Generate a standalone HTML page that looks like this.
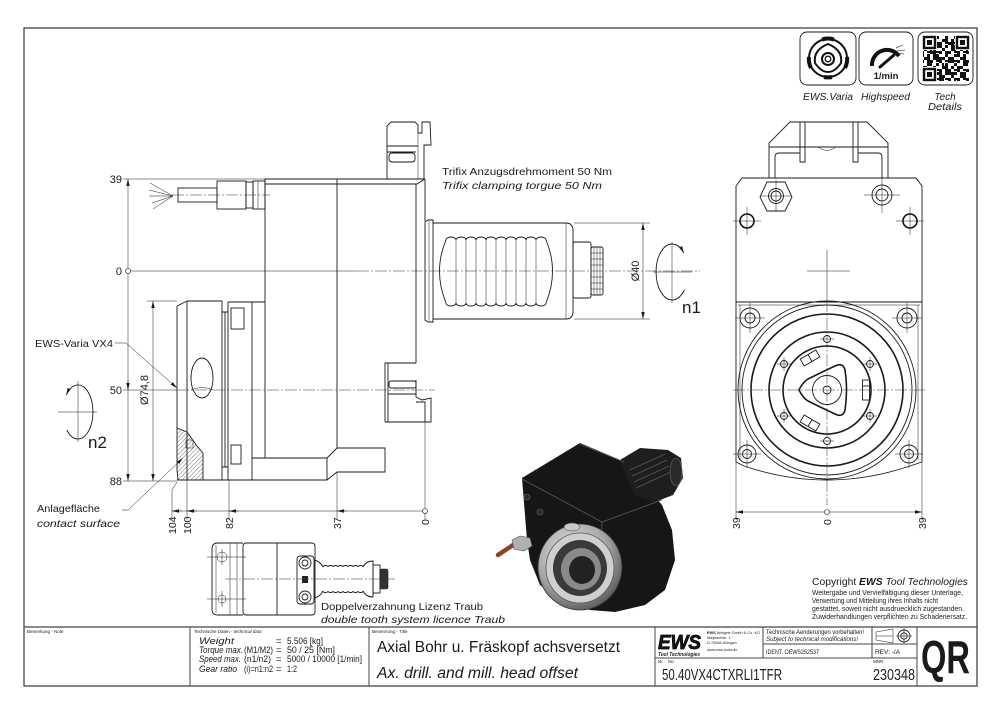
<!DOCTYPE html>
<html><head><meta charset="utf-8">
<style>
html,body{margin:0;padding:0;background:#fff;width:1000px;height:715px;overflow:hidden}
svg{display:block}
text{font-family:"Liberation Sans",sans-serif;fill:#1a1a1a}
.i{font-style:italic}
.o{fill:none;stroke:#1a1a1a;stroke-width:0.9}
.t{fill:none;stroke:#1a1a1a;stroke-width:0.5}
.k{fill:none;stroke:#1a1a1a;stroke-width:1.6}
.c{fill:none;stroke:#333;stroke-width:0.5;stroke-dasharray:12 2 2 2}
</style></head><body>
<svg width="1000" height="715" viewBox="0 0 1000 715" xmlns="http://www.w3.org/2000/svg">
<defs>
<marker id="ar" markerUnits="userSpaceOnUse" markerWidth="7" markerHeight="4" refX="7" refY="2" orient="auto-start-reverse" viewBox="0 0 7 4"><path d="M0,0.3 L7,2 L0,3.7z" fill="#1a1a1a"/></marker>
<pattern id="hatch" width="3" height="3" patternUnits="userSpaceOnUse" patternTransform="rotate(45)"><line x1="0" y1="0" x2="0" y2="3" stroke="#1a1a1a" stroke-width="0.6"/></pattern>
<pattern id="qr1" width="9" height="9" patternUnits="userSpaceOnUse"><rect x="0" y="0" width="3" height="3" fill="#111"/><rect x="6" y="3" width="3" height="3" fill="#111"/><rect x="3" y="6" width="3" height="3" fill="#111"/><rect x="0" y="6" width="3" height="2" fill="#111"/></pattern>
<pattern id="qr2" width="12" height="15" patternUnits="userSpaceOnUse"><rect x="3" y="0" width="3" height="3" fill="#111"/><rect x="9" y="6" width="3" height="6" fill="#111"/><rect x="0" y="12" width="6" height="3" fill="#111"/><rect x="6" y="3" width="2" height="3" fill="#111"/></pattern>
<radialGradient id="ring" cx="0.4" cy="0.35" r="0.7"><stop offset="0" stop-color="#e8e8e8"/><stop offset="0.6" stop-color="#a8a8a8"/><stop offset="1" stop-color="#555"/></radialGradient>
<clipPath id="hc"><polygon points="177,428 187,432 197,446 203,453 203,480 178,480 177,470"/></clipPath>
</defs>

<!-- frame -->
<rect x="24" y="28" width="953" height="658" fill="none" stroke="#444" stroke-width="1.3"/>
<line x1="24" y1="627" x2="977" y2="627" stroke="#444" stroke-width="1.2"/>
<g stroke="#444" stroke-width="1">
<line x1="190" y1="627" x2="190" y2="686"/>
<line x1="369" y1="627" x2="369" y2="686"/>
<line x1="655" y1="627" x2="655" y2="686"/>
<line x1="763" y1="627" x2="763" y2="658"/>
<line x1="872" y1="627" x2="872" y2="658"/>
<line x1="917" y1="627" x2="917" y2="686"/>
<line x1="655" y1="658" x2="917" y2="658"/>
<line x1="763" y1="644" x2="917" y2="644"/>
</g>

<!-- title block text -->
<text x="27" y="633" font-size="4.5">Bemerkung - Note</text>
<text x="194" y="633" font-size="4.5">Technische Daten - <tspan class="i">technical data</tspan></text>
<text x="372" y="633" font-size="4.5">Benennung - <tspan class="i">Title</tspan></text>
<g font-size="9.5">
<text x="199" y="644" class="i" textLength="35" lengthAdjust="spacingAndGlyphs">Weight</text>
<text x="276" y="644">=</text>
<text x="287" y="644" textLength="36" lengthAdjust="spacingAndGlyphs">5.506 [kg]</text>
<text x="199" y="653" class="i" textLength="44" lengthAdjust="spacingAndGlyphs">Torque max.</text>
<text x="244" y="653" textLength="29" lengthAdjust="spacingAndGlyphs">(M1/M2)</text>
<text x="276" y="653">=</text>
<text x="287" y="653" textLength="48" lengthAdjust="spacingAndGlyphs">50 / 25 [Nm]</text>
<text x="199" y="662" class="i" textLength="42" lengthAdjust="spacingAndGlyphs">Speed max.</text>
<text x="244" y="662" textLength="27" lengthAdjust="spacingAndGlyphs">(n1/n2)</text>
<text x="276" y="662">=</text>
<text x="287" y="662" textLength="75" lengthAdjust="spacingAndGlyphs">5000 / 10000 [1/min]</text>
<text x="199" y="672" class="i" textLength="38" lengthAdjust="spacingAndGlyphs">Gear ratio</text>
<text x="244" y="672" textLength="29" lengthAdjust="spacingAndGlyphs">(i)=n1:n2</text>
<text x="276" y="672">=</text>
<text x="287" y="672" textLength="10" lengthAdjust="spacingAndGlyphs">1:2</text>
</g>
<text x="377" y="652" font-size="15.5" textLength="243" lengthAdjust="spacingAndGlyphs">Axial Bohr u. Fräskopf achsversetzt</text>
<text x="377" y="678" font-size="15.5" class="i" textLength="201" lengthAdjust="spacingAndGlyphs">Ax. drill. and mill. head offset</text>

<text x="658" y="649" font-size="20" font-weight="900" class="i" stroke="#000" stroke-width="0.8" textLength="43" lengthAdjust="spacingAndGlyphs">EWS</text>
<text x="658" y="656" font-size="5.2" font-weight="bold" class="i" textLength="42" lengthAdjust="spacingAndGlyphs">Tool Technologies</text>
<g font-size="3.8">
<text x="707" y="634" textLength="53" lengthAdjust="spacingAndGlyphs"><tspan font-weight="bold">EWS</tspan> Weigele GmbH &amp; Co. KG</text>
<text x="707" y="639">Maybachstr. 1</text>
<text x="707" y="644">D-73066 Uhingen</text>
<text x="707" y="651">www.ews-tools.de</text>
</g>
<text x="766" y="634" font-size="6.5" textLength="98" lengthAdjust="spacingAndGlyphs">Technische Aenderungen vorbehalten!</text>
<text x="766" y="641" font-size="6.5" class="i" textLength="92" lengthAdjust="spacingAndGlyphs">Subject to technical modifications!</text>
<text x="766" y="654" font-size="6.5" textLength="53" lengthAdjust="spacingAndGlyphs">IDENT:  OEWS252537</text>
<text x="875" y="654" font-size="6.5" textLength="25" lengthAdjust="spacingAndGlyphs">REV:  -/A</text>
<path d="M876,632 L893,629 L893,643 L876,640 Z M876,636 L893,636" class="t" stroke-width="0.7"/>
<circle cx="904" cy="636" r="6" class="o"/><circle cx="904" cy="636" r="3.2" class="o"/>
<line x1="896" y1="636" x2="912" y2="636" class="t"/><line x1="904" y1="628" x2="904" y2="644" class="t"/>
<text x="658" y="663" font-size="4.5">Nr. - <tspan class="i">No.</tspan></text>
<text x="873" y="663" font-size="4.5">MNR.</text>
<text x="662" y="680" font-size="16" textLength="120" lengthAdjust="spacingAndGlyphs">50.40VX4CTXRLI1TFR</text>
<text x="873" y="680" font-size="16" textLength="42" lengthAdjust="spacingAndGlyphs">230348</text>
<text x="921" y="673" font-size="46" font-weight="bold" textLength="49" lengthAdjust="spacingAndGlyphs">QR</text>

<!-- top right icons -->
<rect x="800" y="32" width="56" height="53" rx="7" class="o"/>
<rect x="859" y="32" width="54" height="53" rx="7" class="o"/>
<rect x="918" y="32" width="55" height="53" rx="7" class="o"/>
<circle cx="828" cy="58" r="19" fill="none" stroke="#111" stroke-width="2"/>
<path d="M822,39.5 A19,19 0 0 1 834,39.5 M811,68 A19,19 0 0 1 809,57 M845,68 A19,19 0 0 0 847,57 M824,77 A19,19 0 0 0 832,77" fill="none" stroke="#111" stroke-width="4"/>
<path d="M828,44 Q843,50 841,63 Q835,72 828,72 Q821,72 815,63 Q813,50 828,44 Z" fill="none" stroke="#111" stroke-width="2"/>
<circle cx="828" cy="59" r="6" fill="none" stroke="#111" stroke-width="2"/>
<circle cx="828" cy="59" r="2.8" fill="none" stroke="#111" stroke-width="1.3"/>
<path d="M872,66 A15,15 0 0 1 899,56" fill="none" stroke="#111" stroke-width="4"/>
<path d="M880,67 L894,55" stroke="#111" stroke-width="3" stroke-linecap="round"/>
<path d="M896,48 L903,45 M897,51 L905,50 M898,53 L904,54" stroke="#555" stroke-width="0.7"/>
<text x="886" y="79" font-size="9.5" font-weight="bold" text-anchor="middle">1/min</text>
<rect x="923" y="36" width="46" height="45" fill="url(#qr1)"/>
<rect x="923" y="36" width="46" height="45" fill="url(#qr2)"/>
<g fill="#fff"><rect x="922" y="35" width="15" height="15"/><rect x="955" y="35" width="15" height="15"/><rect x="922" y="67" width="15" height="15"/></g>
<g fill="none" stroke="#111" stroke-width="2.4"><rect x="924" y="37" width="11" height="11"/><rect x="957" y="37" width="11" height="11"/><rect x="924" y="69" width="11" height="11"/></g>
<g fill="#111"><rect x="927" y="40" width="5" height="5"/><rect x="960" y="40" width="5" height="5"/><rect x="927" y="72" width="5" height="5"/></g>
<text x="803" y="100" font-size="10" class="i" textLength="50" lengthAdjust="spacingAndGlyphs">EWS.Varia</text>
<text x="861" y="100" font-size="10" class="i" textLength="49" lengthAdjust="spacingAndGlyphs">Highspeed</text>
<text x="945" y="100" font-size="10" class="i" text-anchor="middle">Tech</text>
<text x="945" y="110" font-size="10" class="i" text-anchor="middle" textLength="34" lengthAdjust="spacingAndGlyphs">Details</text>

<!-- ===== SIDE VIEW ===== -->
<path d="M173,196 L150,183 M173,196 L149,190 M173,196 L149,196 M173,196 L152,203 M173,196 L153,209" class="t" stroke-width="0.7"/>
<rect x="178" y="188" width="39" height="14" class="o"/>
<rect x="217" y="181" width="29" height="28" class="o"/>
<rect x="246" y="182" width="7" height="26" class="o"/>
<rect x="253" y="181" width="12" height="28" class="o"/>
<line x1="258" y1="181" x2="258" y2="209" class="t"/>
<line x1="172" y1="195" x2="270" y2="195" class="c"/>

<path d="M265,179 L425,179 M265,184 L417,184 L425,179" class="o"/>
<line x1="265" y1="179" x2="265" y2="458" class="o"/>
<line x1="337" y1="179" x2="337" y2="448" class="o"/>
<line x1="416" y1="184" x2="416" y2="363" class="o"/>
<line x1="425" y1="179" x2="425" y2="221" class="o"/>
<path d="M387,179 L387,126 L391,122 L415,122 L418,125 L418,133 L422,133 L422,122 L430,122 L431,145 L424,145 L424,179" class="o"/>
<line x1="387" y1="146" x2="418" y2="146" class="o"/>
<line x1="418" y1="133" x2="418" y2="179" class="t"/>
<line x1="387" y1="152" x2="416" y2="152" class="o"/>
<rect x="389" y="153" width="26" height="9" rx="3" class="o"/>
<path d="M425,222 L428,220 L433,220 L433,322 L428,322 L425,320 Z" class="o"/>
<line x1="429" y1="221" x2="429" y2="321" class="t"/>
<path d="M433,223 L566,223 Q572,223 573,229 L573,313 Q572,319 566,319 L433,319" class="o"/>
<line x1="566" y1="223" x2="566" y2="319" class="t"/>
<path d="M446,240 Q433,271 446,303 M546,240 Q559,271 546,303" class="o"/>
<path d="M446,240 a5,3 0 0 1 10,0 a5,3 0 0 1 10,0 a5,3 0 0 1 10,0 a5,3 0 0 1 10,0 a5,3 0 0 1 10,0 a5,3 0 0 1 10,0 a5,3 0 0 1 10,0 a5,3 0 0 1 10,0 a5,3 0 0 1 10,0 a5,3 0 0 1 10,0" class="o"/>
<path d="M446,303 a5,3 0 0 0 10,0 a5,3 0 0 0 10,0 a5,3 0 0 0 10,0 a5,3 0 0 0 10,0 a5,3 0 0 0 10,0 a5,3 0 0 0 10,0 a5,3 0 0 0 10,0 a5,3 0 0 0 10,0 a5,3 0 0 0 10,0 a5,3 0 0 0 10,0" class="o"/>
<g class="t"><line x1="456" y1="238" x2="456" y2="305"/><line x1="466" y1="238" x2="466" y2="305"/><line x1="476" y1="238" x2="476" y2="305"/><line x1="486" y1="238" x2="486" y2="305"/><line x1="496" y1="238" x2="496" y2="305"/><line x1="506" y1="238" x2="506" y2="305"/><line x1="516" y1="238" x2="516" y2="305"/><line x1="526" y1="238" x2="526" y2="305"/><line x1="536" y1="238" x2="536" y2="305"/></g>
<rect x="573" y="242" width="18" height="56" rx="2" class="o"/>
<rect x="591" y="247" width="12" height="48" rx="2" class="o"/>
<g class="t"><line x1="594" y1="247" x2="594" y2="295"/><line x1="597" y1="247" x2="597" y2="295"/><line x1="600" y1="247" x2="600" y2="295"/>
<line x1="591" y1="253" x2="603" y2="253"/><line x1="591" y1="259" x2="603" y2="259"/><line x1="591" y1="265" x2="603" y2="265"/><line x1="591" y1="277" x2="603" y2="277"/><line x1="591" y1="283" x2="603" y2="283"/><line x1="591" y1="289" x2="603" y2="289"/></g>
<path d="M385,422 L385,363 L416,363 M388,363 L388,422 M388,394 L416,394 M416,380 L416,397 L422,400 L431,398 L431,422 L385,422 M416,402 L425,402 L425,422" class="o"/>
<rect x="389" y="381" width="27" height="7" rx="2" class="o"/>
<path d="M252,458 L327,458 L337,448 L385,448 L385,472 L337,472 L327,480 L177,480" class="o"/>
<line x1="327" y1="458" x2="327" y2="480" class="o"/>
<path d="M228,302 L265,302 M252,302 L252,480 M228,302 L228,480" class="o"/>
<path d="M222,312 L228,312 M222,467 L228,467 M222,301 L222,480" class="o"/>
<line x1="225" y1="312" x2="225" y2="467" class="o"/>
<rect x="231" y="308" width="13" height="21" class="o"/>
<rect x="231" y="445" width="10" height="19" class="o"/>
<path d="M187,301 L222,301 M187,301 L177,306 L177,428 M187,301 L187,480" class="o"/>
<ellipse cx="202" cy="378" rx="11" ry="20" class="o"/>
<path d="M191,390 Q202,385 213,390" class="t"/>
<rect x="170" y="425" width="40" height="60" fill="url(#hatch)" clip-path="url(#hc)"/>
<polygon points="177,428 187,432 197,446 203,453 203,480 178,480 177,470" class="o"/>
<rect x="186" y="440" width="7" height="8" class="t" fill="#fff"/>

<line x1="128" y1="271" x2="357" y2="271" class="t"/>
<line x1="357" y1="271" x2="700" y2="271" class="c"/>
<line x1="123" y1="390" x2="177" y2="390" class="t"/>
<line x1="177" y1="390" x2="435" y2="390" class="c"/>

<line x1="123" y1="179" x2="265" y2="179" class="t"/>
<line x1="123" y1="481" x2="177" y2="481" class="t"/>
<line x1="147" y1="301" x2="177" y2="301" class="t"/>
<line x1="128" y1="271" x2="128" y2="179" class="t" marker-end="url(#ar)"/>
<line x1="128" y1="271" x2="128" y2="481" class="t" marker-end="url(#ar)"/>
<line x1="128" y1="380" x2="128" y2="390" class="t" marker-end="url(#ar)"/>
<circle cx="128" cy="271" r="2.5" fill="#fff" stroke="#1a1a1a" stroke-width="0.6"/>
<line x1="153" y1="301" x2="153" y2="481" class="t" marker-start="url(#ar)" marker-end="url(#ar)"/>
<g font-size="11" text-anchor="end">
<text x="122" y="183">39</text><text x="122" y="275">0</text><text x="122" y="394">50</text><text x="122" y="485">88</text>
</g>
<text transform="translate(148,390) rotate(-90)" font-size="11" text-anchor="middle">Ø74,8</text>

<line x1="172" y1="511" x2="425" y2="511" class="t"/>
<path d="M177,482 L172,490 L172,520 M187,480 L187,520 M229,480 L229,520 M337,472 L337,520 M425,422 L425,520" class="t"/>
<line x1="182" y1="511" x2="172" y2="511" class="t" marker-end="url(#ar)"/>
<line x1="197" y1="511" x2="187" y2="511" class="t" marker-end="url(#ar)"/>
<line x1="239" y1="511" x2="229" y2="511" class="t" marker-end="url(#ar)"/>
<line x1="347" y1="511" x2="337" y2="511" class="t" marker-end="url(#ar)"/>
<circle cx="425" cy="511" r="2.5" fill="#fff" stroke="#1a1a1a" stroke-width="0.6"/>
<g font-size="10.5">
<text transform="translate(176,534) rotate(-90)">104</text>
<text transform="translate(191,534) rotate(-90)">100</text>
<text transform="translate(233,529) rotate(-90)">82</text>
<text transform="translate(341,529) rotate(-90)">37</text>
<text transform="translate(429,525) rotate(-90)">0</text>
</g>

<line x1="574" y1="223" x2="650" y2="223" class="t"/>
<line x1="574" y1="319" x2="650" y2="319" class="t"/>
<line x1="643" y1="223" x2="643" y2="319" class="t" marker-start="url(#ar)" marker-end="url(#ar)"/>
<text transform="translate(639,271) rotate(-90)" font-size="11" text-anchor="middle">Ø40</text>

<line x1="653" y1="272" x2="692" y2="272" class="t" stroke-width="0.7"/>
<line x1="672" y1="242" x2="672" y2="303" class="t" stroke-width="0.7"/>
<path d="M683.8,253 A16,28 0 1 0 684.3,290" class="o" marker-start="url(#ar)"/>
<text x="682" y="313" font-size="17">n1</text>
<line x1="58" y1="412" x2="97" y2="412" class="t" stroke-width="0.7"/>
<line x1="78" y1="381" x2="78" y2="442" class="t" stroke-width="0.7"/>
<path d="M66.3,395 A15,27 0 1 1 66.8,430" class="o" marker-start="url(#ar)"/>
<text x="88" y="448" font-size="17">n2</text>

<text x="35" y="347" font-size="10.5" textLength="78" lengthAdjust="spacingAndGlyphs">EWS-Varia VX4</text>
<path d="M115,343 L126,343 L177,388" class="t" marker-end="url(#ar)"/>
<text x="37" y="512" font-size="10.5" textLength="63" lengthAdjust="spacingAndGlyphs">Anlagefläche</text>
<text x="37" y="527" font-size="10.5" class="i" textLength="83" lengthAdjust="spacingAndGlyphs">contact surface</text>
<path d="M122,510 L128,510 L183,458" class="t" marker-end="url(#ar)"/>

<text x="442" y="175" font-size="10.5" textLength="170" lengthAdjust="spacingAndGlyphs">Trifix Anzugsdrehmoment  50 Nm</text>
<text x="442" y="189" font-size="10.5" class="i" textLength="160" lengthAdjust="spacingAndGlyphs">Trifix clamping torgue  50 Nm</text>

<!-- ===== FRONT VIEW ===== -->
<path d="M769,178 L769,143 L790,122 L867,122 L888,143 L888,178" class="o"/>
<line x1="769" y1="147" x2="888" y2="147" class="o"/>
<path d="M800,122 L800,162 L805,162 L805,122 M853,122 L853,162 L858,162 L858,122" class="o"/>
<path d="M775,178 L775,157 Q775,153 779,153 L800,153 M882,178 L882,157 Q882,153 878,153 L858,153" class="o"/>
<path d="M818,147 Q827,154 836,147" class="t"/>
<path d="M736,186 L742,178 L916,178 L922,186 L922,462 M736,186 L736,462" class="o"/>
<line x1="736" y1="302" x2="922" y2="302" class="o"/>
<line x1="738" y1="305" x2="920" y2="305" class="t"/>
<path d="M736,462 L744,466 Q827,494 910,466 L922,462" class="o"/>
<line x1="740" y1="305" x2="740" y2="460" class="t"/>
<line x1="918" y1="305" x2="918" y2="460" class="t"/>
<polygon points="760,197 767,182 785,182 792,197 785,211 767,211" class="o"/>
<circle cx="776" cy="196" r="7.5" class="o"/><circle cx="776" cy="196" r="5" class="o"/>
<path d="M760,196 L792,196 M776,180 L776,212" class="t"/>
<circle cx="882" cy="195" r="10" class="o"/><circle cx="882" cy="195" r="6" class="o"/>
<path d="M864,195 L900,195 M882,177 L882,213" class="t"/>
<circle cx="747" cy="221" r="7" fill="none" stroke="#111" stroke-width="1.6"/>
<circle cx="910" cy="221" r="7" fill="none" stroke="#111" stroke-width="1.6"/>
<path d="M733,221 L761,221 M747,207 L747,235 M896,221 L924,221 M910,207 L910,235" class="t"/>
<path d="M807,271 L850,271 M827,250 L827,300" class="t"/>
<circle cx="827" cy="390" r="89" class="o" stroke-width="0.8"/>
<circle cx="827" cy="390" r="85" class="o" stroke-width="0.8"/>
<circle cx="827" cy="390" r="76" class="k"/>
<circle cx="827" cy="390" r="58" class="k" stroke-width="1.4"/>
<circle cx="827" cy="390" r="44" class="k"/>
<path d="M799,390 Q803,382 808,379 Q822,372 835,366 Q843,362 845,370 Q848,390 845,410 Q843,418 835,414 Q822,408 808,401 Q803,398 799,390 Z" class="k" stroke-linejoin="round"/>
<circle cx="827" cy="390" r="14.5" class="o"/>
<circle cx="827" cy="390" r="4" class="o"/>
<g class="o">
<circle cx="827" cy="339" r="3.5"/><circle cx="827" cy="441" r="3.5"/>
<circle cx="784" cy="364" r="3.5"/><circle cx="870" cy="364" r="3.5"/>
<circle cx="784" cy="416" r="3.5"/><circle cx="870" cy="416" r="3.5"/>
</g>
<path d="M820,339 L834,339 M820,441 L834,441 M777,364 L791,364 M784,357 L784,371 M863,364 L877,364 M870,357 L870,371 M777,416 L791,416 M784,409 L784,423 M863,416 L877,416 M870,409 L870,423" class="t"/>
<g class="o" stroke-width="1.1">
<g transform="translate(810,358) rotate(-30)"><rect x="-9" y="-4" width="18" height="8"/><line x1="0" y1="-4" x2="0" y2="4"/></g>
<g transform="translate(810,423) rotate(30)"><rect x="-9" y="-4" width="18" height="8"/><line x1="0" y1="-4" x2="0" y2="4"/></g>
<g transform="translate(866,390)"><rect x="-3.5" y="-10" width="7" height="20"/><line x1="-3.5" y1="-4" x2="3.5" y2="-4"/></g>
</g>
<g class="o">
<circle cx="750" cy="318" r="10"/><circle cx="750" cy="318" r="5"/>
<circle cx="907" cy="318" r="10"/><circle cx="907" cy="318" r="5"/>
<circle cx="747" cy="454" r="9"/><circle cx="747" cy="454" r="4.5"/>
<circle cx="909" cy="454" r="9"/><circle cx="909" cy="454" r="4.5"/>
</g>
<path d="M735,318 L765,318 M750,303 L750,333 M892,318 L922,318 M907,303 L907,333 M733,454 L761,454 M747,440 L747,468 M895,454 L923,454 M909,440 L909,468" class="t"/>
<line x1="827" y1="300" x2="827" y2="505" class="c"/>
<line x1="733" y1="390" x2="925" y2="390" class="c"/>
<path d="M736,462 L736,520 M922,462 L922,520" class="t"/>
<line x1="736" y1="512" x2="922" y2="512" class="t" marker-start="url(#ar)" marker-end="url(#ar)"/>
<circle cx="827" cy="512" r="2.5" fill="#fff" stroke="#1a1a1a" stroke-width="0.6"/>
<g font-size="10.5">
<text transform="translate(740,529) rotate(-90)">39</text>
<text transform="translate(831,525) rotate(-90)">0</text>
<text transform="translate(926,529) rotate(-90)">39</text>
</g>

<!-- ===== 3D RENDER ===== -->
<polygon points="522,478 580,443 625,462 662,505 672,530 675,560 665,590 645,605 615,612 590,610 560,600 540,585 530,560 527,540" fill="#161616"/>
<polygon points="620,460 640,448 668,450 681,458 683,478 673,495 655,502 635,496" fill="#1e1e1e"/>
<g stroke="#5a5a5a" stroke-width="0.8">
<line x1="630" y1="470" x2="665" y2="454"/><line x1="632" y1="476" x2="667" y2="460"/><line x1="634" y1="482" x2="669" y2="466"/><line x1="636" y1="488" x2="671" y2="472"/>
<line x1="522" y1="479" x2="602" y2="522"/><line x1="602" y1="522" x2="662" y2="500"/><line x1="602" y1="522" x2="600" y2="602"/>
<line x1="580" y1="444" x2="624" y2="462"/>
</g>
<ellipse cx="676" cy="472" rx="6" ry="14" fill="#2a2a2a" stroke="#666" stroke-width="0.6"/>
<circle cx="527" cy="497" r="3" fill="#2a2a2a" stroke="#666" stroke-width="0.6"/>
<circle cx="540" cy="512" r="3" fill="#2a2a2a" stroke="#666" stroke-width="0.6"/>
<line x1="498" y1="555" x2="513" y2="545" stroke="#8a4528" stroke-width="4.5" stroke-linecap="round"/>
<polygon points="512,540 520,536 530,538 532,546 524,551 514,549" fill="#b0b0b0" stroke="#555" stroke-width="0.6"/>
<ellipse cx="580" cy="567" rx="42" ry="43" fill="url(#ring)" stroke="#333" stroke-width="0.8"/>
<ellipse cx="580" cy="568" rx="34" ry="35" fill="#cfcfcf" stroke="#555" stroke-width="0.8"/>
<ellipse cx="580" cy="568" rx="27" ry="28" fill="#3a3a3a"/>
<ellipse cx="581" cy="569" rx="20" ry="21" fill="#8a8a8a"/>
<ellipse cx="582" cy="570" rx="13" ry="14" fill="#222"/>
<ellipse cx="572" cy="527" rx="8" ry="4" fill="#c8c8c8" stroke="#444" stroke-width="0.5"/>

<!-- ===== SMALL SIDE VIEW ===== -->
<path d="M243,543 L218,543 Q212,543 212,549 L212,609 Q212,615 218,615 L243,615" class="o"/>
<path d="M216,545 L216,613 M230,543 L230,615 M237,543 L237,615" class="t"/>
<rect x="243" y="543" width="72" height="72" rx="3" class="o"/>
<line x1="277" y1="543" x2="277" y2="615" class="o"/>
<path d="M207,557 L246,557 M222,549 L222,565 M207,599 L246,599 M222,591 L222,607" class="t"/>
<circle cx="222" cy="557" r="5" class="t"/><circle cx="222" cy="599" r="4" class="t"/>
<rect x="297" y="556" width="17" height="48" rx="3" class="o"/>
<circle cx="305" cy="563" r="6" class="o"/><circle cx="305" cy="563" r="3" class="o"/>
<circle cx="305" cy="597" r="6" class="o"/><circle cx="305" cy="597" r="3" class="o"/>
<rect x="302" y="576" width="6" height="7" fill="#222"/>
<path d="M314,560 Q320,561 323,567 a2.5,1.5 0 0 1 5,0 a2.5,1.5 0 0 1 5,0 a2.5,1.5 0 0 1 5,0 a2.5,1.5 0 0 1 5,0 a2.5,1.5 0 0 1 5,0 a2.5,1.5 0 0 1 5,0 a2.5,1.5 0 0 1 5,0 a2.5,1.5 0 0 1 5,0 Q366,561 373,561 L373,597 Q366,597 363,591 a2.5,1.5 0 0 1 -5,0 a2.5,1.5 0 0 1 -5,0 a2.5,1.5 0 0 1 -5,0 a2.5,1.5 0 0 1 -5,0 a2.5,1.5 0 0 1 -5,0 a2.5,1.5 0 0 1 -5,0 a2.5,1.5 0 0 1 -5,0 a2.5,1.5 0 0 1 -5,0 Q320,597 314,598" class="o"/>
<rect x="373" y="565" width="7" height="28" class="o"/>
<rect x="380" y="569" width="8" height="20" rx="2" fill="#333" stroke="#1a1a1a" stroke-width="0.6"/>
<line x1="225" y1="579" x2="395" y2="579" class="c"/>
<text x="321" y="610" font-size="10.5" textLength="162" lengthAdjust="spacingAndGlyphs">Doppelverzahnung Lizenz Traub</text>
<text x="321" y="623" font-size="10.5" class="i" textLength="184" lengthAdjust="spacingAndGlyphs">double tooth system licence Traub</text>

<!-- copyright -->
<text x="812" y="585" font-size="10" textLength="156" lengthAdjust="spacingAndGlyphs">Copyright <tspan font-weight="bold" class="i">EWS</tspan> <tspan class="i">Tool Technologies</tspan></text>
<g font-size="7.3">
<text x="812" y="595" textLength="151" lengthAdjust="spacingAndGlyphs">Weitergabe und Vervielfältigung dieser Unterlage,</text>
<text x="812" y="603" textLength="126" lengthAdjust="spacingAndGlyphs">Verwertung und Mitteilung ihres Inhalts nicht</text>
<text x="812" y="611" textLength="152" lengthAdjust="spacingAndGlyphs">gestattet, soweit nicht ausdruecklich zugestanden.</text>
<text x="812" y="619" textLength="155" lengthAdjust="spacingAndGlyphs">Zuwiderhandlungen verpflichten zu Schadenersatz.</text>
</g>
</svg>
</body></html>
